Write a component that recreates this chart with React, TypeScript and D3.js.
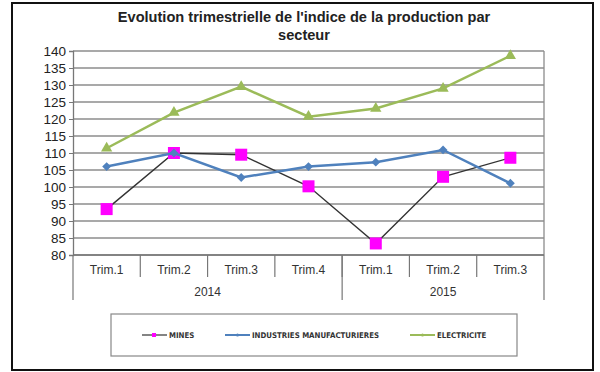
import React, { useEffect, useRef } from 'react';
import * as d3 from 'd3';

const quarters = ['Trim.1', 'Trim.2', 'Trim.3', 'Trim.4', 'Trim.1', 'Trim.2', 'Trim.3'];
const years = ['2014', '2015'];
const yearSpans = [4, 3];
const mines = [93.5, 110, 109.5, 100.2, 83.4, 103, 108.6];
const industries = [106, 110, 102.8, 106, 107.3, 110.9, 101.1];
const electricite = [111.4, 121.9, 129.5, 120.7, 123.1, 129, 138.6];
const seriesNames = ['MINES', 'INDUSTRIES MANUFACTURIERES', 'ELECTRICITE'];
const yTicks = [80, 85, 90, 95, 100, 105, 110, 115, 120, 125, 130, 135, 140];

const App = () => {
  const ref = useRef<SVGSVGElement>(null);

  useEffect(() => {
    const svg = d3.select(ref.current);
    svg.selectAll('*').remove();
    const font = 'Arial, "Liberation Sans", sans-serif';

    // outer frame
    svg.append('rect')
      .attr('x', 12).attr('y', 3).attr('width', 581).attr('height', 367)
      .attr('fill', 'white').attr('stroke', '#111').attr('stroke-width', 2);

    // title
    svg.append('text')
      .attr('x', 304).attr('y', 22).attr('text-anchor', 'middle')
      .attr('font-family', font).attr('font-size', 14.6).attr('font-weight', 'bold')
      .attr('fill', '#222')
      .text("Evolution trimestrielle de l'indice de la production par");
    svg.append('text')
      .attr('x', 304).attr('y', 40).attr('text-anchor', 'middle')
      .attr('font-family', font).attr('font-size', 14.6).attr('font-weight', 'bold')
      .attr('fill', '#222')
      .text('secteur');

    const left = 73, right = 544, top = 51, bottom = 255;
    const x = d3.scaleBand<number>().domain(d3.range(quarters.length)).range([left, right]);
    const y = d3.scaleLinear().domain([80, 140]).range([bottom, top]);

    // grid
    svg.append('g').selectAll('line').data(yTicks).enter().append('line')
      .attr('x1', left).attr('x2', right)
      .attr('y1', d => y(d)).attr('y2', d => y(d))
      .attr('stroke', '#8c8c8c').attr('stroke-width', 1.3);
    svg.append('line')
      .attr('x1', right).attr('x2', right).attr('y1', top).attr('y2', bottom)
      .attr('stroke', '#8c8c8c').attr('stroke-width', 1.3);

    // y axis
    const yAxis = svg.append('g').attr('transform', `translate(${left},0)`)
      .call(d3.axisLeft(y).tickValues(yTicks).tickSize(4).tickPadding(3));
    yAxis.select('.domain').attr('stroke', '#777').attr('stroke-width', 1.3);
    yAxis.selectAll('.tick line').attr('stroke', '#777');
    yAxis.selectAll('text').attr('font-family', font).attr('font-size', 13.5).attr('fill', '#222');

    // category axis (two levels)
    const cat = svg.append('g');
    cat.append('line').attr('x1', left).attr('x2', right).attr('y1', bottom).attr('y2', bottom)
      .attr('stroke', '#777').attr('stroke-width', 1.3);
    d3.range(1, quarters.length).forEach(i => {
      cat.append('line')
        .attr('x1', x(i)!).attr('x2', x(i)!).attr('y1', bottom).attr('y2', 277)
        .attr('stroke', '#777').attr('stroke-width', 1.2);
    });
    cat.selectAll('text.q').data(quarters).enter().append('text')
      .attr('class', 'q')
      .attr('x', (d, i) => x(i)! + x.bandwidth() / 2).attr('y', 274)
      .attr('text-anchor', 'middle').attr('font-family', font).attr('font-size', 12)
      .attr('fill', '#333').text(d => d);
    let start = 0;
    yearSpans.forEach((span, j) => {
      const x0 = x(start)!;
      const x1 = start + span < quarters.length ? x(start + span)! : right;
      if (j === 0) {
        cat.append('line').attr('x1', x0).attr('x2', x0).attr('y1', bottom).attr('y2', 300)
          .attr('stroke', '#777').attr('stroke-width', 1.2);
      }
      cat.append('line').attr('x1', x1).attr('x2', x1).attr('y1', bottom).attr('y2', 300)
        .attr('stroke', '#777').attr('stroke-width', 1.2);
      cat.append('text')
        .attr('x', (x0 + x1) / 2).attr('y', 296).attr('text-anchor', 'middle')
        .attr('font-family', font).attr('font-size', 12).attr('fill', '#333')
        .text(years[j]);
      start += span;
    });

    const cx = (i: number) => x(i)! + x.bandwidth() / 2;
    const line = d3.line<number>().x((d, i) => cx(i)).y(d => y(d));

    // MINES
    svg.append('path').datum(mines).attr('d', line)
      .attr('fill', 'none').attr('stroke', '#333').attr('stroke-width', 1.4);
    svg.append('g').selectAll('rect').data(mines).enter().append('rect')
      .attr('x', (d, i) => cx(i) - 6).attr('y', d => y(d) - 6)
      .attr('width', 12).attr('height', 12).attr('fill', '#ff00ff');

    // INDUSTRIES
    svg.append('path').datum(industries).attr('d', line)
      .attr('fill', 'none').attr('stroke', '#4f81bd').attr('stroke-width', 2.5);
    svg.append('g').selectAll('path').data(industries).enter().append('path')
      .attr('d', d3.symbol().type(d3.symbolDiamond2).size(50)!)
      .attr('transform', (d, i) => `translate(${cx(i)},${y(d)})`)
      .attr('fill', '#4f81bd');

    // ELECTRICITE
    svg.append('path').datum(electricite).attr('d', line)
      .attr('fill', 'none').attr('stroke', '#9bbb59').attr('stroke-width', 2.5);
    svg.append('g').selectAll('path').data(electricite).enter().append('path')
      .attr('d', d3.symbol().type(d3.symbolTriangle).size(55)!)
      .attr('transform', (d, i) => `translate(${cx(i)},${y(d)})`)
      .attr('fill', '#9bbb59');

    // legend
    svg.append('rect')
      .attr('x', 111).attr('y', 314).attr('width', 406).attr('height', 42)
      .attr('fill', 'white').attr('stroke', '#888').attr('stroke-width', 1.2);
    const legendX = [142, 225, 410];
    const legendColors = ['#333', '#4f81bd', '#9bbb59'];
    seriesNames.forEach((name, i) => {
      const lx = legendX[i];
      svg.append('line').attr('x1', lx).attr('x2', lx + 25).attr('y1', 335).attr('y2', 335)
        .attr('stroke', legendColors[i]).attr('stroke-width', i === 0 ? 1.2 : 2);
      if (i === 0) {
        svg.append('rect').attr('x', lx + 10).attr('y', 333).attr('width', 4).attr('height', 4)
          .attr('fill', '#ff00ff');
      } else {
        svg.append('circle').attr('cx', lx + 12.5).attr('cy', 335).attr('r', 1.5)
          .attr('fill', legendColors[i]);
      }
      svg.append('text')
        .attr('x', lx + 27).attr('y', 337.5)
        .attr('font-family', '"Liberation Sans Narrow", "DejaVu Sans Condensed", Arial, sans-serif')
        .attr('font-size', 7.8).attr('font-weight', 'bold').attr('fill', '#333')
        .text(name);
    });
  }, []);

  return (
    <svg ref={ref} width={600} height={372}
      style={{ position: 'absolute', left: 0, top: 0, background: 'white' }} />
  );
};

export default App;
